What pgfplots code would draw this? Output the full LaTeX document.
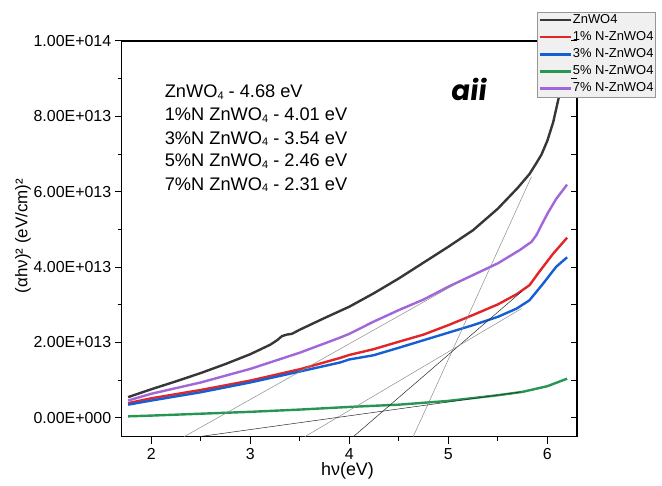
\documentclass[border=0pt]{standalone}
\usepackage{pgfplots}
\pgfplotsset{compat=1.18}
\usepackage{fontspec}
\setmainfont{Liberation Sans}
\newfontfamily\aiifont{Poppins}[FakeSlant=0.12]
\definecolor{cblack}{RGB}{55,55,55}
\definecolor{cred}{RGB}{226,38,40}
\definecolor{cblue}{RGB}{20,95,212}
\definecolor{cgreen}{RGB}{38,150,82}
\definecolor{cpurple}{RGB}{160,102,218}
\definecolor{lgfill}{RGB}{240,240,240}
\definecolor{lgdraw}{RGB}{150,150,150}
\definecolor{tgray}{RGB}{140,140,140}
\definecolor{tdark}{RGB}{40,40,40}
\newcommand{\sub}{\raisebox{-1.5bp}{\fontsize{11}{12}\selectfont 4}}
\begin{document}
\begin{tikzpicture}
\useasboundingbox (-121.7bp,-49.3bp) rectangle (540.3bp,436.7bp);
\begin{axis}[
  width=455.3bp, height=395.7bp, scale only axis,
  xmin=1.7, xmax=6.3, ymin=-0.5, ymax=10,
  enlargelimits=false,
  axis line style={black, line width=1.2bp},
  xtick={2,3,4,5,6}, minor xtick={2.5,3.5,4.5,5.5},
  ytick={0,2,4,6,8,10}, minor ytick={1,3,5,7,9},
  yticklabels={0.00E+000,2.00E+013,4.00E+013,6.00E+013,8.00E+013,1.00E+014},
  xtick pos=bottom, ytick pos=left, tick align=outside,
  major tick length=7bp, minor tick length=4bp,
  tick style={black, line width=1bp},
  /pgf/number format/assume math mode=true,
  ticklabel style={font=\fontsize{16}{19}\selectfont},
  xticklabel style={yshift=-1bp},
  xlabel={hν(eV)},
  ylabel={(αhν)² (eV/cm)²},
  xlabel style={font=\fontsize{18}{21}\selectfont, at={(rel axis cs:0.496,-0.0993)}, anchor=base},
  ylabel style={font=\fontsize{17}{20}\selectfont, at={(rel axis cs:-0.217,0.507)}, anchor=center, rotate=0},
  legend style={at={(0.9128,1.074)}, anchor=north west, fill=lgfill, draw=lgdraw,
    font=\fontsize{13}{15}\selectfont, inner xsep=1bp, inner ysep=1.5bp, row sep=3.6bp,
    nodes={inner sep=1bp, text height=9bp, text depth=2.5bp}},
  legend cell align=left,
  legend image code/.code={\draw[#1] (0bp,0bp) -- (31bp,0bp);},
  every axis plot/.append style={line width=2.4bp},
]
\addplot[cblack] coordinates {
(1.765,0.55) (2.0,0.76) (2.25,0.97) (2.5,1.19) (2.75,1.43) (3.0,1.69) (3.2,1.94)
(3.27,2.06) (3.32,2.17) (3.37,2.21) (3.42,2.23) (3.5,2.34) (3.75,2.65) (4.0,2.95)
(4.25,3.31) (4.5,3.70) (4.75,4.12) (5.0,4.54) (5.25,4.98) (5.5,5.55) (5.7,6.10)
(5.82,6.47) (5.88,6.72) (5.94,6.98) (6.0,7.35) (6.06,7.85) (6.12,8.55) (6.16,9.25) (6.2,10.2)};
\addlegendentry{ZnWO4}
\addplot[cred] coordinates {
(1.765,0.39) (2.0,0.52) (2.5,0.74) (3.0,0.99) (3.5,1.29) (3.907,1.59) (4.0,1.67)
(4.243,1.82) (4.5,2.02) (4.75,2.21) (5.0,2.46) (5.25,2.73) (5.5,3.01) (5.69,3.28)
(5.82,3.52) (5.92,3.88) (6.06,4.36) (6.2,4.78)};
\addlegendentry{1\% N-ZnWO4}
\addplot[cblue] coordinates {
(1.765,0.35) (2.0,0.46) (2.5,0.68) (3.0,0.94) (3.5,1.23) (3.907,1.47) (4.0,1.55)
(4.243,1.66) (4.5,1.86) (4.75,2.06) (5.0,2.26) (5.25,2.46) (5.5,2.68) (5.69,2.90)
(5.82,3.12) (5.96,3.57) (6.09,4.01) (6.2,4.26)};
\addlegendentry{3\% N-ZnWO4}
\addplot[cgreen] coordinates {
(1.765,0.04) (2.0,0.06) (2.5,0.11) (3.0,0.16) (3.5,0.22) (4.0,0.29) (4.5,0.35)
(5.0,0.45) (5.5,0.60) (5.75,0.69) (6.0,0.84) (6.2,1.04)};
\addlegendentry{5\% N-ZnWO4}
\addplot[cpurple] coordinates {
(1.765,0.46) (2.0,0.64) (2.5,0.94) (3.0,1.30) (3.5,1.73) (3.907,2.13) (4.0,2.23)
(4.243,2.55) (4.5,2.86) (4.75,3.14) (5.0,3.48) (5.25,3.79) (5.5,4.10) (5.72,4.45)
(5.84,4.67) (5.89,4.85) (5.94,5.11) (6.01,5.46) (6.09,5.81) (6.2,6.19)};
\addlegendentry{7\% N-ZnWO4}
% tangent lines
\addplot[tgray, line width=0.5bp, forget plot] coordinates {(4.645,-0.5) (5.84,6.4)};
\addplot[tdark, line width=0.5bp, forget plot] coordinates {(4.04,-0.5) (5.74,3.35)};
\addplot[tgray, line width=0.5bp, forget plot] coordinates {(3.55,-0.5) (5.74,2.9)};
\addplot[tdark, line width=0.5bp, forget plot] coordinates {(2.48,-0.5) (5.74,0.69)};
\addplot[tgray, line width=0.5bp, forget plot] coordinates {(2.33,-0.5) (5.12,3.62)};
% annotations
\begin{scope}[every node/.style={font=\fontsize{18.3}{21}\selectfont, anchor=base west, inner sep=0pt}]
\node at (axis cs:2.134,8.50) {ZnWO\sub{} - 4.68 eV};
\node at (axis cs:2.134,7.88) {1\%N ZnWO\sub{} - 4.01 eV};
\node at (axis cs:2.134,7.26) {3\%N ZnWO\sub{} - 3.54 eV};
\node at (axis cs:2.134,6.66) {5\%N ZnWO\sub{} - 2.46 eV};
\node at (axis cs:2.134,6.04) {7\%N ZnWO\sub{} - 2.31 eV};
\end{scope}
\node[anchor=base, inner sep=0pt, font=\aiifont\bfseries\fontsize{28}{30}\selectfont] at (axis cs:5.20,8.43) {aii};
\end{axis}
\begin{axis}[
  width=455.3bp, height=395.7bp, scale only axis,
  xmin=1.7, xmax=6.3, ymin=-0.5, ymax=10,
  enlargelimits=false,
  axis line style={draw=none},
  xtick=\empty,
  ytick={0,1,2,3,4,5,6,7,8,9,10}, yticklabels={},
  ytick pos=right, tick align=inside,
  major tick length=6bp,
  tick style={black, line width=1bp},
]
\end{axis}
\end{tikzpicture}
\end{document}
